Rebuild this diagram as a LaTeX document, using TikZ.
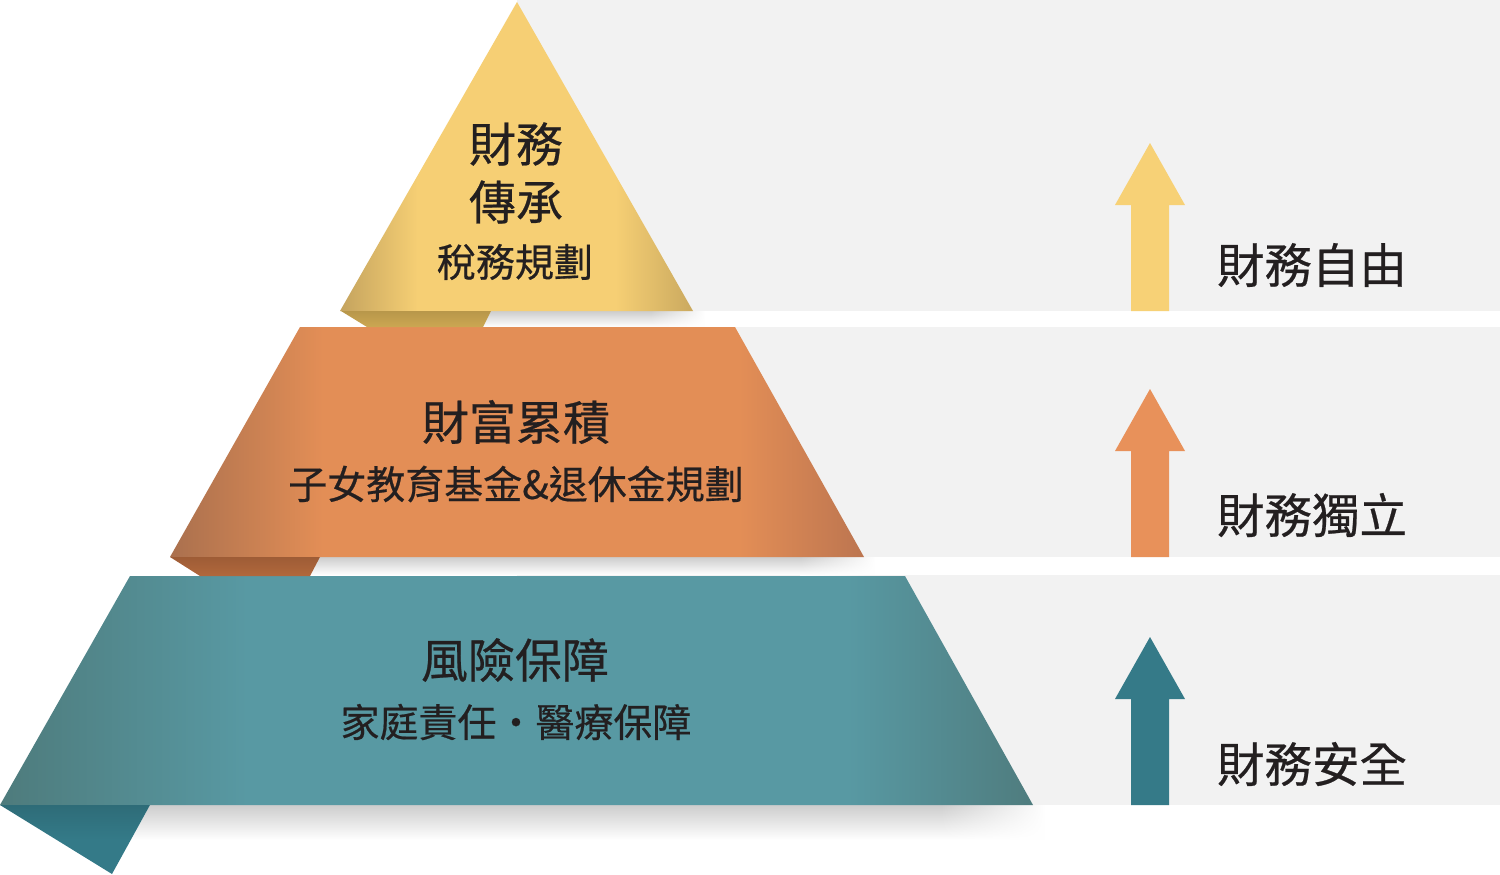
\documentclass[tikz,border=0pt]{standalone}
\usepackage{fontspec}
\newfontfamily\cjk[FakeBold=0.5]{Noto Sans CJK TC}
\usetikzlibrary{fadings}
\definecolor{ink}{HTML}{231F20}
\definecolor{band}{HTML}{F2F2F2}
\definecolor{ylM}{HTML}{F6CF74}
\definecolor{ylL}{HTML}{C4A35E}
\definecolor{ylR}{HTML}{CAA95F}
\definecolor{ylF}{HTML}{CCA752}
\definecolor{ylFd}{HTML}{B8974A}
\definecolor{orM}{HTML}{E38E56}
\definecolor{orL}{HTML}{AA704E}
\definecolor{orR}{HTML}{BC7550}
\definecolor{orF}{HTML}{B1683C}
\definecolor{orFd}{HTML}{9E5C36}
\definecolor{tlM}{HTML}{5899A3}
\definecolor{tlL}{HTML}{4E7B7C}
\definecolor{tlR}{HTML}{4F7C7E}
\definecolor{tlF}{HTML}{347A88}
\definecolor{tlFd}{HTML}{2E6C78}
\definecolor{arY}{HTML}{F7D176}
\definecolor{arO}{HTML}{E8915A}
\definecolor{arT}{HTML}{357A88}
\definecolor{shc}{HTML}{CDCDCD}
\pgfdeclarehorizontalshading{yshade}{100bp}{color(0bp)=(ylL); color(25bp)=(ylL); color(36bp)=(ylM); color(64bp)=(ylM); color(75bp)=(ylR); color(100bp)=(ylR)}
\pgfdeclarehorizontalshading{oshade}{100bp}{color(0bp)=(orL); color(25bp)=(orL); color(36bp)=(orM); color(66bp)=(orM); color(75bp)=(orR); color(100bp)=(orR)}
\pgfdeclarehorizontalshading{tshade}{100bp}{color(0bp)=(tlL); color(25bp)=(tlL); color(37bp)=(tlM); color(66bp)=(tlM); color(75bp)=(tlR); color(100bp)=(tlR)}
\tikzfading[name=fadeR, left color=transparent!0, right color=transparent!100]
\tikzset{
  title/.style={font=\cjk\fontsize{47}{50}\selectfont, text=ink, inner sep=0pt},
  sub/.style={font=\cjk\fontsize{39}{42}\selectfont, text=ink, inner sep=0pt},
  goal/.style={font=\cjk\fontsize{47.5}{50}\selectfont, text=ink, inner sep=0pt},
  shadowbox/.style={top color=shc, bottom color=white, draw=none},
  shadowend/.style={top color=shc, bottom color=white, draw=none, path fading=fadeR}
}
\begin{document}
\begin{tikzpicture}[x=1pt,y=-1pt]
\useasboundingbox (0,0) rectangle (1500,875);
\fill[white] (0,0) rectangle (1500,875);
% background bands
\fill[band] (517,0) rectangle (1500,311);
\fill[band] (517,327) rectangle (1500,557);
\fill[band] (517,575) rectangle (1500,805);
% shadows
\shade[shadowbox] (491,311) -- (650,311) -- (650,327) -- (483,327) -- cycle;
\shade[shadowend] (650,311) rectangle (705,327);
\shade[shadowbox] (320,557) -- (800,557) -- (800,575) -- (310,575) -- cycle;
\shade[shadowend] (800,557) rectangle (875,575);
\shade[shadowbox] (150,805) -- (940,805) -- (940,840) -- (131,840) -- cycle;
\shade[shadowend] (940,805) rectangle (1045,840);
% bottom layer
\shade[shading=tshade] (130,576) -- (905,576) -- (1033,805) -- (0,805) -- cycle;
\shade[top color=tlFd, bottom color=tlF, middle color=tlF] (0,805) -- (150,805) -- (112,874) -- cycle;
% middle layer
\shade[shading=oshade] (300,327) -- (735,327) -- (864,557) -- (170,557) -- cycle;
\shade[top color=orFd, bottom color=orF] (170,557) -- (320,557) -- (310,576) -- (200,576) -- cycle;
% top layer
\shade[shading=yshade] (517,2) -- (693,311) -- (340,311) -- cycle;
\shade[top color=ylFd, bottom color=ylF] (341,311) -- (491,311) -- (483,327) -- (367,327) -- cycle;
% arrows
\fill[arY] (1131,311) -- (1131,205) -- (1115,205) -- (1150,143) -- (1185,205) -- (1169,205) -- (1169,311) -- cycle;
\fill[arO] (1131,557) -- (1131,451) -- (1115,451) -- (1150,389) -- (1185,451) -- (1169,451) -- (1169,557) -- cycle;
\fill[arT] (1131,805) -- (1131,699) -- (1115,699) -- (1150,637) -- (1185,699) -- (1169,699) -- (1169,805) -- cycle;
% pyramid texts
\node[title] (t1a) at (516,144) {財務};
\node[title] (t1b) at (516,202) {傳承};
\node[sub] (t1c) at (515,262) {稅務規劃};
\node[title] (t2a) at (516,422) {財富累積};
\node[sub] (t2b) at (516,484) {子女教育基金\&退休金規劃};
\node[title] (t3a) at (515,660) {風險保障};
\node[sub] (t3b) at (516,722) {家庭責任・醫療保障};
% goals
\node[goal] (g1) at (1312,265) {財務自由};
\node[goal] (g2) at (1312,515) {財務獨立};
\node[goal] (g3) at (1312,764) {財務安全};
\end{tikzpicture}
\end{document}
